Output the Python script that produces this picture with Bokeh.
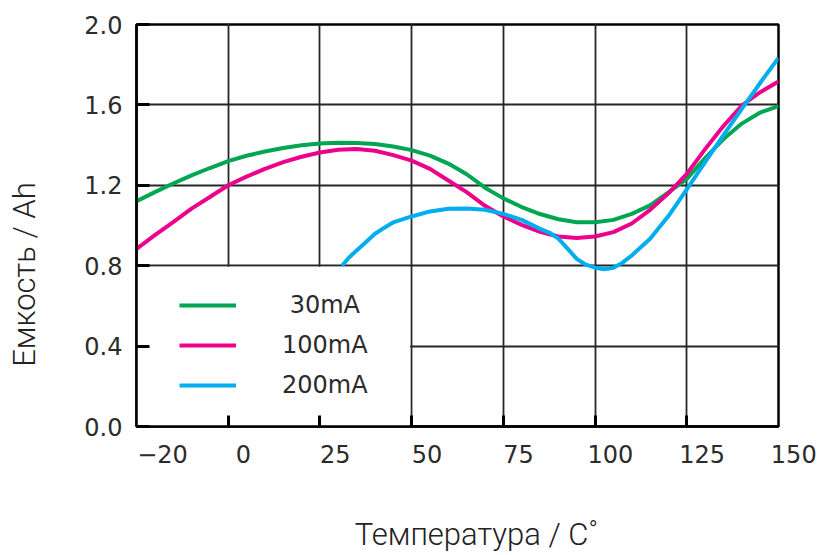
from bokeh.plotting import figure
from bokeh.models import (LinearAxis, Range1d, FixedTicker, Grid, BoxAnnotation,
                          Legend, LegendItem, PrintfTickFormatter)
from bokeh.embed import file_html
from bokeh.resources import INLINE

# ---- data ----
temp_30 = [-25, -20, -15, -10, -5, 0, 5, 10, 15, 20, 25, 30, 35, 40, 45, 50, 55, 60, 65,
           70, 75, 80, 85, 90, 95, 100, 105, 110, 115, 120, 125, 130, 135, 140, 145, 150]
cap_30 = [1.121, 1.166, 1.209, 1.249, 1.286, 1.320, 1.347, 1.368, 1.386, 1.399, 1.408,
          1.412, 1.411, 1.405, 1.393, 1.375, 1.348, 1.308, 1.255, 1.188, 1.135, 1.092,
          1.057, 1.031, 1.016, 1.016, 1.028, 1.058, 1.100, 1.165, 1.232, 1.335, 1.430,
          1.507, 1.562, 1.594]

temp_100 = [-25, -20, -15, -10, -5, 0, 5, 10, 15, 20, 25, 30, 35, 40, 45, 50, 55, 60, 65,
            70, 75, 80, 85, 90, 95, 100, 105, 110, 115, 120, 125, 130, 135, 140, 145, 150]
cap_100 = [0.884, 0.952, 1.017, 1.084, 1.142, 1.200, 1.243, 1.282, 1.315, 1.342, 1.363,
           1.377, 1.381, 1.372, 1.350, 1.323, 1.282, 1.224, 1.166, 1.098, 1.045, 1.003,
           0.968, 0.945, 0.938, 0.945, 0.967, 1.010, 1.078, 1.160, 1.257, 1.380, 1.495,
           1.597, 1.663, 1.716]

temp_200 = [31, 33, 35, 37.5, 40, 42.5, 45, 50, 55, 60, 65, 70, 75, 80, 85, 87.5, 90, 92.5,
            95, 97.5, 100, 102.5, 105, 107.5, 110, 115, 120, 125, 130, 135, 140, 145, 150]
cap_200 = [0.800, 0.842, 0.876, 0.917, 0.959, 0.988, 1.016, 1.045, 1.070, 1.083, 1.085,
           1.078, 1.058, 1.028, 0.983, 0.965, 0.935, 0.885, 0.834, 0.805, 0.790, 0.782,
           0.790, 0.815, 0.851, 0.934, 1.047, 1.180, 1.315, 1.450, 1.580, 1.709, 1.834]

series_labels = ["\u00a030mA", "100mA", "200mA"]
series_colors = ["#00A651", "#EC008C", "#00AEEF"]

x_ticks = [0, 25, 50, 75, 100, 125]
x_tick_labels = [-20, 0, 25, 50, 75, 100, 125, 150]
y_ticks = [0.0, 0.4, 0.8, 1.2, 1.6, 2.0]
x_title = "Температура / C\u02da"
y_title = "Емкость / Ah"

TICK_FONT = "DejaVu Sans"
TITLE_FONT = "Roboto Light, Roboto"
NB = "\u00a0"

p = figure(width=820, height=555, x_range=Range1d(-25, 150),
           y_range=Range1d(0, 2.0), output_backend="svg", toolbar_location=None,
           x_axis_location=None, y_axis_location="left",
           min_border_left=136, min_border_top=24, min_border_right=42,
           min_border_bottom=129)
p.background_fill_color = "white"
p.border_fill_color = "white"
p.outline_line_color = "black"
p.outline_line_width = 2.5

# y axis
ya = p.yaxis[0]
ya.ticker = FixedTicker(ticks=y_ticks)
ya.formatter = PrintfTickFormatter(format="%.1f")
ya.major_tick_in = 13
ya.major_tick_out = 0
ya.major_tick_line_width = 3
ya.minor_tick_line_color = None
ya.axis_line_width = 2.5
ya.major_label_text_font = TICK_FONT
ya.major_label_text_font_size = "24px"
ya.major_label_text_color = "#2b2b2b"
ya.major_label_standoff = 14
ya.axis_label = y_title + NB * 13
ya.axis_label_text_font = TITLE_FONT
ya.axis_label_text_font_size = "31px"
ya.axis_label_text_font_style = "normal"
ya.axis_label_text_color = "#222222"
ya.axis_label_standoff = 38

p.ygrid.ticker = FixedTicker(ticks=y_ticks)
p.ygrid.grid_line_color = "#262626"
p.ygrid.grid_line_width = 1.8

# x axis: tick marks only
xa = LinearAxis(ticker=FixedTicker(ticks=x_ticks))
xa.major_tick_in = 11
xa.major_tick_out = 0
xa.major_tick_line_width = 3
xa.minor_tick_line_color = None
xa.axis_line_width = 2.5
xa.major_label_text_font_size = "1px"
xa.major_label_text_alpha = 0
xa.major_label_standoff = 0
p.add_layout(xa, "below")

# x axis: labels, placed to the right of each mark as in the reference
xl = LinearAxis(ticker=FixedTicker(ticks=x_tick_labels))
xl.axis_line_color = None
xl.major_tick_line_color = None
xl.minor_tick_line_color = None
xl.major_label_overrides = {v: ((NB * 2 + "\u221220") if v == -20 else NB * 4 + str(v))
                            for v in x_tick_labels}
xl.major_label_text_font = TICK_FONT
xl.major_label_text_font_size = "24px"
xl.major_label_text_color = "#2b2b2b"
xl.major_label_standoff = 8
xl.axis_label = NB * 5 + x_title
xl.axis_label_text_font = TITLE_FONT
xl.axis_label_text_font_size = "31px"
xl.axis_label_text_font_style = "normal"
xl.axis_label_text_color = "#222222"
xl.axis_label_standoff = 44
p.add_layout(xl, "below")

xgrid = Grid(dimension=0, ticker=FixedTicker(ticks=x_ticks),
             grid_line_color="#262626", grid_line_width=1.8)
p.add_layout(xgrid)

# white legend area hiding the grid
box = BoxAnnotation(left=-25, right=49.6, bottom=0, top=0.795,
                    fill_color="white", fill_alpha=1.0, line_color=None,
                    level="underlay")
p.add_layout(box)

r30 = p.line(temp_30, cap_30, line_color=series_colors[0], line_width=4, line_join="round")
r100 = p.line(temp_100, cap_100, line_color=series_colors[1], line_width=4, line_join="round")
r200 = p.line(temp_200, cap_200, line_color=series_colors[2], line_width=4, line_join="round")

legend = Legend(items=[LegendItem(label=series_labels[0], renderers=[r30]),
                       LegendItem(label=series_labels[1], renderers=[r100]),
                       LegendItem(label=series_labels[2], renderers=[r200])],
                location=(43, 21), orientation="vertical",
                background_fill_alpha=0, border_line_color=None,
                padding=0, margin=0, spacing=0,
                glyph_width=57, glyph_height=40, label_height=40,
                label_standoff=46,
                label_text_font=TICK_FONT, label_text_font_size="24px",
                label_text_color="#2b2b2b")
p.add_layout(legend)

open("out.html", "w").write(file_html(p, INLINE))
